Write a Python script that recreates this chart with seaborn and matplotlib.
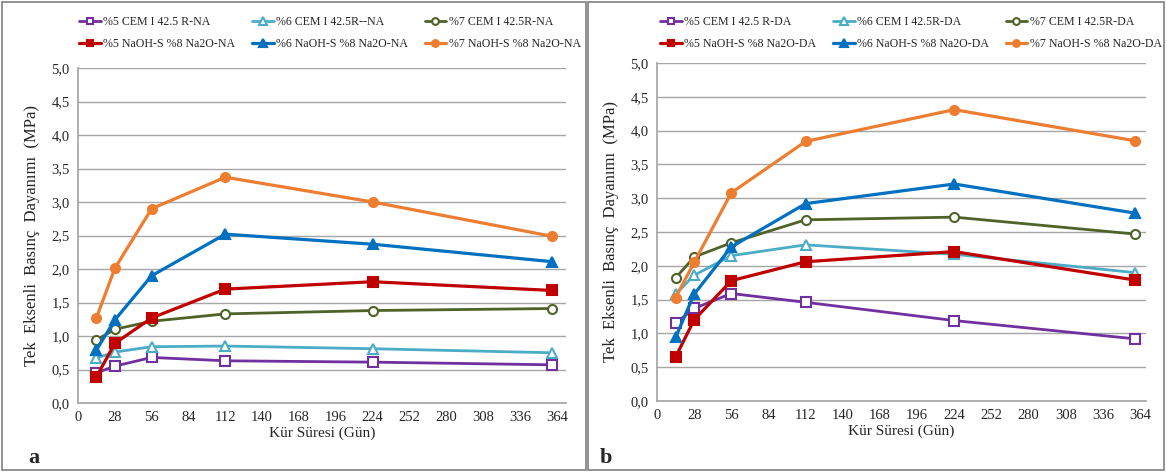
import matplotlib

matplotlib.use("Agg")
import matplotlib.pyplot as plt
import pandas as pd
import seaborn as sns
from matplotlib.patches import Rectangle
from matplotlib.ticker import FuncFormatter, MultipleLocator


DAYS = [14, 28, 56, 112, 224, 360]

SERIES_NAMES_NA = [
    "%5 CEM I 42.5 R-NA",
    "%6 CEM I 42.5R--NA",
    "%7 CEM I 42.5R-NA",
    "%5 NaOH-S %8 Na2O-NA",
    "%6 NaOH-S %8 Na2O-NA",
    "%7 NaOH-S %8 Na2O-NA",
]
SERIES_NAMES_DA = [
    "%5 CEM I 42.5 R-DA",
    "%6 CEM I 42.5R-DA",
    "%7 CEM I 42.5R-DA",
    "%5 NaOH-S %8 Na2O-DA",
    "%6 NaOH-S %8 Na2O-DA",
    "%7 NaOH-S %8 Na2O-DA",
]

CEM5_NA = [0.45, 0.55, 0.68, 0.63, 0.61, 0.57]
CEM6_NA = [0.67, 0.76, 0.84, 0.85, 0.81, 0.75]
CEM7_NA = [0.94, 1.10, 1.22, 1.33, 1.38, 1.41]
NAOH5_NA = [0.39, 0.89, 1.27, 1.70, 1.81, 1.68]
NAOH6_NA = [0.79, 1.24, 1.90, 2.52, 2.37, 2.11]
NAOH7_NA = [1.27, 2.01, 2.90, 3.37, 3.00, 2.49]

CEM5_DA = [1.15, 1.37, 1.59, 1.46, 1.19, 0.92]
CEM6_DA = [1.58, 1.86, 2.15, 2.31, 2.17, 1.90]
CEM7_DA = [1.82, 2.13, 2.34, 2.68, 2.72, 2.47]
NAOH5_DA = [0.65, 1.20, 1.78, 2.06, 2.21, 1.79]
NAOH6_DA = [0.94, 1.58, 2.28, 2.92, 3.21, 2.78]
NAOH7_DA = [1.53, 2.05, 3.08, 3.84, 4.31, 3.85]

COLORS = ["#7030A0", "#4BACC6", "#4F6228", "#C00000", "#0070C0", "#ED7D31"]
MARKERS = ["s", "^", "o", "s", "^", "o"]
OPEN = [True, True, True, False, False, False]
X_TICKS = list(range(0, 365, 28))


def draw_panel(ax, names, values, xmax):
    for i, (name, vals) in enumerate(zip(names, values)):
        frame = pd.DataFrame({"day": DAYS, "mpa": vals})
        sns.lineplot(
            data=frame,
            x="day",
            y="mpa",
            ax=ax,
            color=COLORS[i],
            marker=MARKERS[i],
            markersize=6.5 if MARKERS[i] != "^" else 7,
            markerfacecolor="white" if OPEN[i] else COLORS[i],
            markeredgecolor=COLORS[i],
            markeredgewidth=1.5,
            linewidth=2.0 if OPEN[i] else 2.3,
            label=name,
        )
    ax.set_xlim(0, xmax)
    ax.set_ylim(0, 5)
    ax.set_xticks(X_TICKS)
    ax.yaxis.set_major_locator(MultipleLocator(0.5))
    ax.yaxis.set_major_formatter(FuncFormatter(lambda v, _: f"{v:.1f}".replace(".", ",")))
    ax.grid(axis="y", color="#A6A6A6", linewidth=1.0)
    ax.grid(axis="x", visible=False)
    for side in ["top", "right"]:
        ax.spines[side].set_visible(False)
    for side in ["left", "bottom"]:
        ax.spines[side].set_color("#A6A6A6")
    ax.tick_params(axis="x", length=4, color="#A6A6A6", labelsize=10.5, pad=2)
    ax.tick_params(axis="y", length=0, labelsize=10.5, pad=6)
    ax.set_xlabel("Kür Süresi (Gün)", fontsize=11, labelpad=1.5)
    ax.set_ylabel("Tek  Eksenli  Basınç  Dayanımı  (MPa)", fontsize=12, labelpad=8)
    if ax.get_legend():
        ax.get_legend().remove()

    handles, labels = ax.get_legend_handles_labels()
    order = [0, 3, 1, 4, 2, 5]
    return [handles[j] for j in order], [labels[j] for j in order]


def main() -> None:
    sns.set_theme(style="white")
    plt.rcParams["font.family"] = ["Liberation Serif", "DejaVu Serif"]

    fig = plt.figure(figsize=(11.67, 4.72), dpi=100)
    fig.patches.append(Rectangle((2 / 1167, 2 / 472), 584 / 1167, 468 / 472,
                                 transform=fig.transFigure, fill=False,
                                 edgecolor="#7F7F7F", linewidth=1.2))
    fig.patches.append(Rectangle((588 / 1167, 2 / 472), 576 / 1167, 468 / 472,
                                 transform=fig.transFigure, fill=False,
                                 edgecolor="#7F7F7F", linewidth=1.2))

    ax_a = fig.add_axes([78 / 1167, 1 - 403 / 472, 488 / 1167, 335 / 472])
    ax_b = fig.add_axes([657 / 1167, 1 - 401 / 472, 489 / 1167, 338 / 472])

    panels = [
        (ax_a, SERIES_NAMES_NA, [CEM5_NA, CEM6_NA, CEM7_NA, NAOH5_NA, NAOH6_NA, NAOH7_NA], 371, 330 / 1167),
        (ax_b, SERIES_NAMES_DA, [CEM5_DA, CEM6_DA, CEM7_DA, NAOH5_DA, NAOH6_DA, NAOH7_DA], 368.5, 911 / 1167),
    ]
    for ax, names, values, xmax, legend_x in panels:
        handles, labels = draw_panel(ax, names, values, xmax)
        fig.legend(
            handles,
            labels,
            loc="center",
            bbox_to_anchor=(legend_x, 1 - 33 / 472),
            ncol=3,
            frameon=False,
            fontsize=8.6,
            handlelength=1.8,
            handletextpad=0.2,
            columnspacing=1.4,
            labelspacing=0.85,
            markerscale=0.75,
        )

    fig.text(28 / 1167, 1 - 458 / 472, "a", fontsize=16, fontweight="bold", va="center")
    fig.text(600 / 1167, 1 - 458 / 472, "b", fontsize=16, fontweight="bold", va="center")

    fig.savefig("out.png", dpi=100)
    plt.close(fig)


if __name__ == "__main__":
    main()
